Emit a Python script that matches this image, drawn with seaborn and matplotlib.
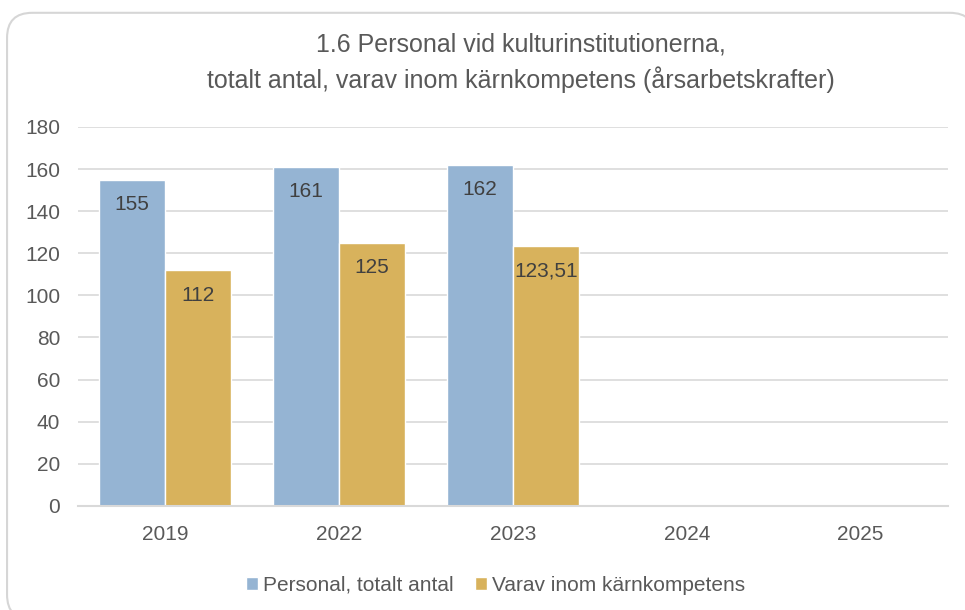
import matplotlib
matplotlib.use("Agg")
import matplotlib.pyplot as plt
from matplotlib.patches import FancyBboxPatch
import seaborn as sns
import pandas as pd
import numpy as np

# --- data ---
years = ["2019", "2022", "2023", "2024", "2025"]
personal_totalt = [155, 161, 162, np.nan, np.nan]
karnkompetens = [112, 125, 123.51, np.nan, np.nan]
series_names = ["Personal, totalt antal", "Varav inom kärnkompetens"]
title = "1.6 Personal vid kulturinstitutionerna,\ntotalt antal, varav inom kärnkompetens (årsarbetskrafter)"

df = pd.DataFrame({
    "year": years * 2,
    "value": personal_totalt + karnkompetens,
    "serie": [series_names[0]] * len(years) + [series_names[1]] * len(years),
})

sns.set_style("white")
plt.rcParams["font.family"] = ["Liberation Sans", "DejaVu Sans"]

fig = plt.figure(figsize=(9.65, 6.1), dpi=100)

# rounded frame around the chart (runs off the right and bottom edges)
frame = FancyBboxPatch((0.0073, -0.016), 1.003, 0.995, boxstyle="round,pad=0,rounding_size=0.026",
                       transform=fig.transFigure, facecolor="white", edgecolor="#D6D6D6",
                       linewidth=1.5, mutation_aspect=965 / 610, zorder=-10)
fig.patches.append(frame)

ax = fig.add_axes([0.081, 0.1705, 0.901, 0.6215])
ax.patch.set_alpha(0)

sns.barplot(data=df, x="year", y="value", hue="serie", order=years, hue_order=series_names,
            palette=["#95B4D3", "#D8B25C"], width=0.76, saturation=1, ax=ax, legend=True)

ax.set_ylim(0, 180)
ax.set_yticks(range(0, 181, 20))
ax.grid(axis="y", color="#D9D9D9", linewidth=1.2)
ax.set_axisbelow(True)
for s in ["left", "right", "top"]:
    ax.spines[s].set_visible(False)
ax.spines["bottom"].set_color("#D9D9D9")
ax.spines["bottom"].set_linewidth(1.5)
ax.tick_params(axis="both", length=0, labelsize=15, colors="#595959")
ax.tick_params(axis="x", pad=14)
ax.tick_params(axis="y", pad=13)
ax.set_xlabel("")
ax.set_ylabel("")

# labels inside the top of each bar
for cont in ax.containers:
    for bar in cont:
        h = bar.get_height()
        if np.isnan(h) or h == 0:
            continue
        txt = f"{h:g}".replace(".", ",")
        ax.annotate(txt, (bar.get_x() + bar.get_width() / 2, h), xytext=(0, -18),
                    textcoords="offset points", ha="center", va="center",
                    fontsize=15, color="#404040")

ax.legend(loc="upper center", bbox_to_anchor=(0.48, -0.135), ncol=2, frameon=False,
          fontsize=15, handlelength=0.6, handleheight=0.6, handletextpad=0.25,
          columnspacing=1.0, labelcolor="#595959")

fig.text(0.54, 0.897, title, ha="center", va="center", fontsize=18, color="#595959",
         linespacing=1.42)

fig.savefig("out.png", dpi=100)
